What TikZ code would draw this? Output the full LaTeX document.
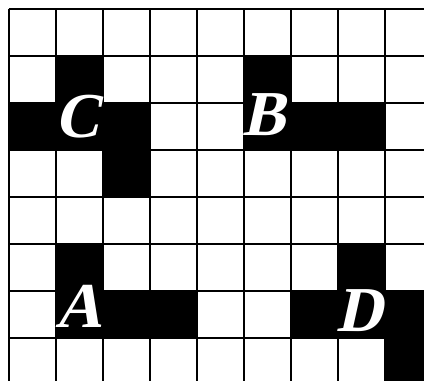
\documentclass[tikz,border=0pt]{standalone}
\usepackage{fontspec}
\newfontfamily\lblfont{Liberation Serif}[UprightFont=* Bold, FakeSlant=0.22]
\begin{document}
\begin{tikzpicture}[x=1pt,y=-1pt,
  cellbox/.style={fill=black},
  gridline/.style={line width=2pt, black},
  lbl/.style={text=white, font=\fontsize{64}{64}\lblfont, inner sep=0pt, anchor=base}]
\useasboundingbox (0,0) rectangle (424,381);
\fill[white] (0,0) rectangle (424,381);
\begin{scope}
\clip (0,0) rectangle (424,381);
% black cells: (col,row)
\foreach \c/\r in {1/1,0/2,1/2,2/2,2/3, 5/1,5/2,6/2,7/2, 1/5,1/6,2/6,3/6, 7/5,6/6,7/6,8/6,8/7}
  \fill[cellbox] ({8.5+47*\c},{8.5+47*\r}) rectangle ++(47,47);
% grid lines
\foreach \k in {0,...,9}
  \draw[gridline] ({8.5+47*\k},8.5) -- ({8.5+47*\k},400);
\foreach \k in {0,...,8}
  \draw[gridline] (8.5,{8.5+47*\k}) -- (440,{8.5+47*\k});
\end{scope}
\node[lbl] (C) at (78,137) {C};
\node[lbl] (B) at (264,135) {B};
\node[lbl] (A) at (79,327) {A};
\node[lbl] (D) at (360,331) {D};
\end{tikzpicture}
\end{document}
